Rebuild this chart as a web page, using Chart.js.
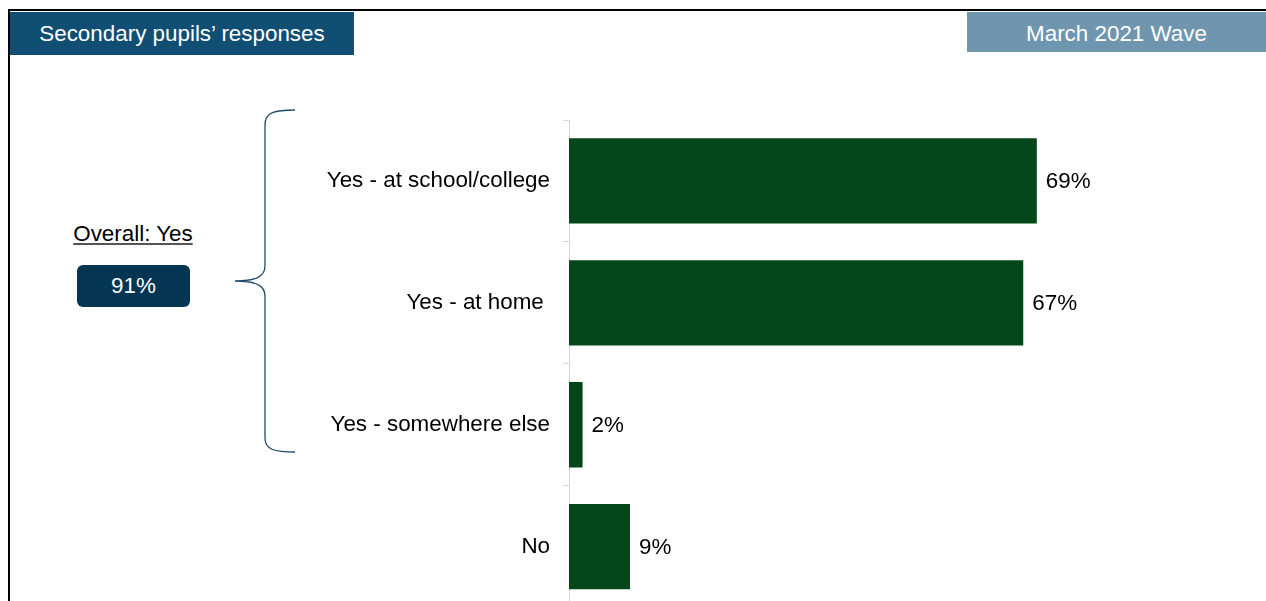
<!DOCTYPE html>
<html>
<head>
<meta charset="utf-8">
<script src="https://cdn.jsdelivr.net/npm/chart.js@4"></script>
<style>
  body { margin: 0; width: 1266px; height: 601px; overflow: hidden; background: #fff; font-family: "Liberation Sans", Arial, sans-serif; position: relative; }
  .frame { position: absolute; left: 8px; top: 9px; width: 1300px; height: 700px; border: 2px solid #000; box-sizing: border-box; }
  .hdr { position: absolute; color: #fff; font-size: 22.4px; display: flex; align-items: center; justify-content: center; }
  #hdrLeft { left: 10px; top: 12px; width: 344px; height: 43px; background: #114e74; }
  #hdrRight { left: 967px; top: 12px; width: 299px; height: 40px; padding-top: 4px; box-sizing: border-box; background: #7095ae; }
  #overallLbl { position: absolute; left: 50px; width: 166px; top: 221px; text-align: center; font-size: 22.4px; color: #000; text-decoration: underline; text-decoration-color: #555; }
  #overallBox { position: absolute; left: 77px; top: 265px; width: 113px; height: 42px; background: #043552; border-radius: 6px; color: #fff; font-size: 22.4px; display: flex; align-items: center; justify-content: center; }
  #brace { position: absolute; left: 0; top: 0; }
  #wrap { position: absolute; left: 300px; top: 0; width: 966px; height: 634px; }
</style>
</head>
<body>
<div class="frame"></div>
<div class="hdr" id="hdrLeft">Secondary pupils’ responses</div>
<div class="hdr" id="hdrRight">March 2021 Wave</div>
<div id="overallLbl">Overall: Yes</div>
<div id="overallBox">91%</div>
<svg id="brace" width="320" height="470">
  <path d="M295 110 C275 110 265 112 265 125 L265 266 C265 277 255 281 235 281 C255 281 265 285 265 296 L265 438 C265 450 275 452 295 452"
        fill="none" stroke="#1f4e6b" stroke-width="1.3"/>
</svg>
<div id="wrap"><canvas id="chart" width="966" height="634"></canvas></div>
<script>
const categories = ['Yes - at school/college', 'Yes - at home ', 'Yes - somewhere else', 'No'];
const values = [69, 67, 2, 9];
const barColor = '#03461a';
const fontFamily = '"Liberation Sans", Arial, sans-serif';

const valueLabels = {
    id: 'valueLabels',
    afterDatasetsDraw(chart) {
        const ctx = chart.ctx;
        const meta = chart.getDatasetMeta(0);
        ctx.save();
        ctx.font = `22.4px ${fontFamily}`;
        ctx.fillStyle = '#000';
        ctx.textAlign = 'left';
        ctx.textBaseline = 'middle';
        meta.data.forEach((bar, i) => {
            ctx.fillText(values[i] + '%', bar.x + 9, bar.y + 1);
        });
        ctx.restore();
    }
};

new Chart(document.getElementById('chart').getContext('2d'), {
    type: 'bar',
    data: {
        labels: categories,
        datasets: [{
            data: values,
            backgroundColor: barColor,
            categoryPercentage: 0.7,
            barPercentage: 1
        }]
    },
    options: {
        indexAxis: 'y',
        responsive: false,
        animation: false,
        layout: { padding: { top: 120, right: 19, bottom: 3, left: 0 } },
        plugins: {
            legend: { display: false },
            tooltip: { enabled: false }
        },
        scales: {
            x: { display: false, min: 0, max: 100 },
            y: {
                afterFit: (scale) => { scale.width = 269; },
                grid: { offset: true, drawOnChartArea: false, tickLength: 6, color: '#d9d9d9' },
                border: { color: '#d9d9d9' },
                ticks: { color: '#000', padding: 13, font: { size: 22.4, family: fontFamily } }
            }
        }
    },
    plugins: [valueLabels]
});
</script>
</body>
</html>
